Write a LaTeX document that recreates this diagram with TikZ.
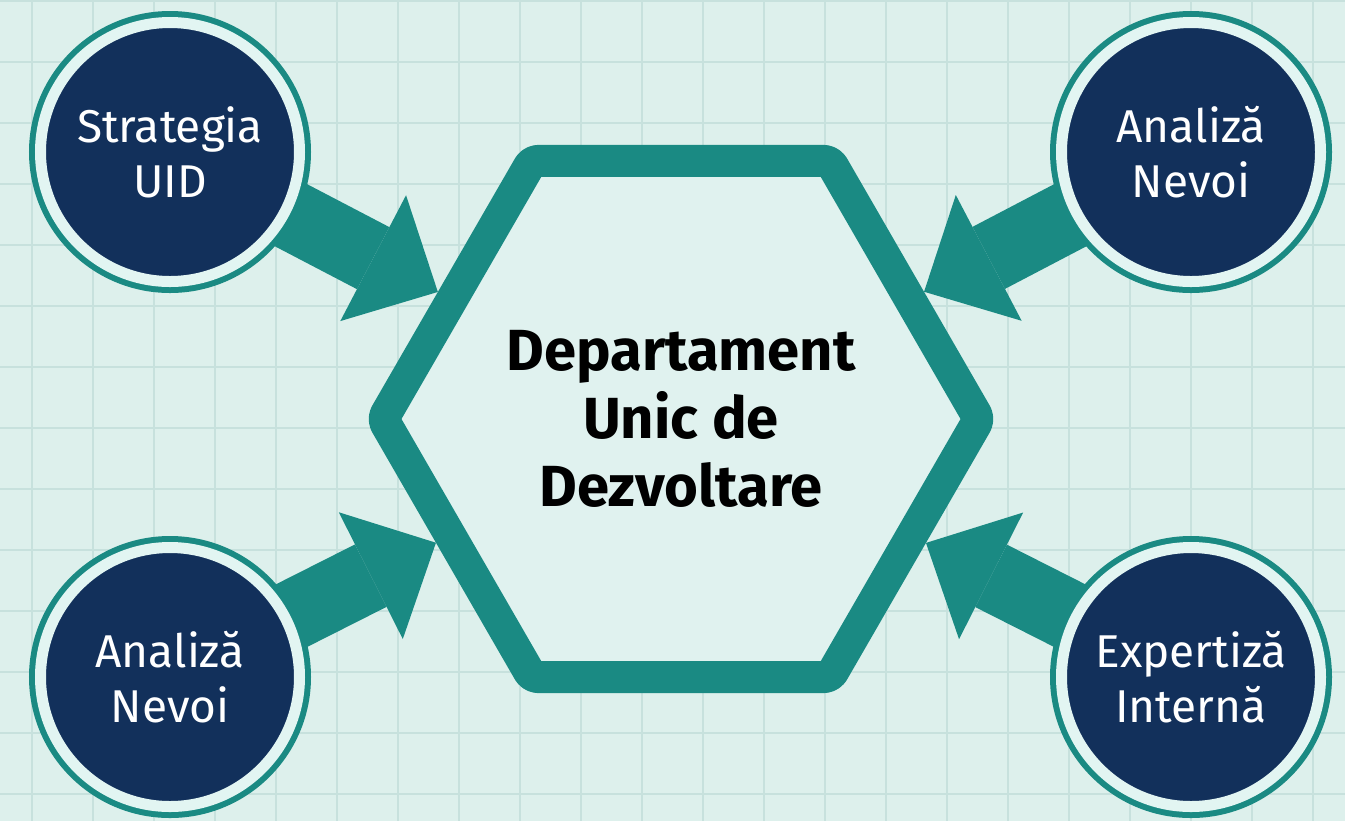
\documentclass[tikz,border=0pt]{standalone}
\usepackage{fontspec}
\setmainfont{Fira Sans}
\usepackage{tikz}
\usetikzlibrary{shapes.geometric,arrows.meta,positioning}
\definecolor{bgmint}{HTML}{DDF0EC}
\definecolor{gridmint}{HTML}{C7E1DD}
\definecolor{hexfill}{HTML}{E0F2EF}
\definecolor{tealdark}{HTML}{1A8A83}
\definecolor{navyblue}{HTML}{12305B}
\definecolor{ringlight}{HTML}{E2F5F2}
\pgfdeclarelayer{back}
\pgfsetlayers{back,main}

\begin{document}
\begin{tikzpicture}[x=0.5pt,y=-0.5pt,
    gridline/.style={draw=gridmint,line width=1pt},
    hexnode/.style={regular polygon,regular polygon sides=6,minimum size=298pt,inner sep=0pt,
        draw=tealdark,fill=hexfill,line width=16pt,line join=round,rounded corners=3pt,
        align=center,font=\bfseries\fontsize{29}{34}\selectfont},
    topicnode/.style={circle,minimum size=129.5pt,inner sep=0pt,fill=navyblue,draw=ringlight,
        line width=5.5pt,preaction={draw=tealdark,line width=11.5pt},
        text=white,align=center,font=\fontsize{23}{27.5}\selectfont},
    feedarrow/.style={draw=tealdark,line width=35pt,
        -{Triangle[length=36.5pt 0 0,width=71pt 0 0,line width=0pt 0 0]}}]
    \useasboundingbox (0,0) rectangle (1345,821);
    % Centre
    \node[hexnode] (hex) at (681,419) {Departament\\Unic de\\Dezvoltare};
    % Inputs
    \node[topicnode] (strategy) at (170,152) {Strategia\\UID};
    \node[topicnode] (needsTop) at (1191,152) {Analiză\\Nevoi};
    \node[topicnode] (needsLow) at (170,677) {Analiză\\Nevoi};
    \node[topicnode] (expertise) at (1191,677) {Expertiză\\Internă};
    \begin{pgfonlayer}{back}
        % Paper
        \fill[bgmint] (0,0) rectangle (1345,821);
        \foreach \gx in {0,...,21}
            \draw[gridline] ({32+61*\gx},0) -- ({32+61*\gx},821);
        \foreach \gy in {0,...,13}
            \draw[gridline] (0,{1+61*\gy}) -- (1345,{1+61*\gy});
        % Arrows
        \draw[feedarrow] (strategy.center) -- (hex);
        \draw[feedarrow] (needsTop.center) -- (hex);
        \draw[feedarrow] (needsLow.center) -- (hex);
        \draw[feedarrow] (expertise.center) -- (hex);
    \end{pgfonlayer}
\end{tikzpicture}
\end{document}
